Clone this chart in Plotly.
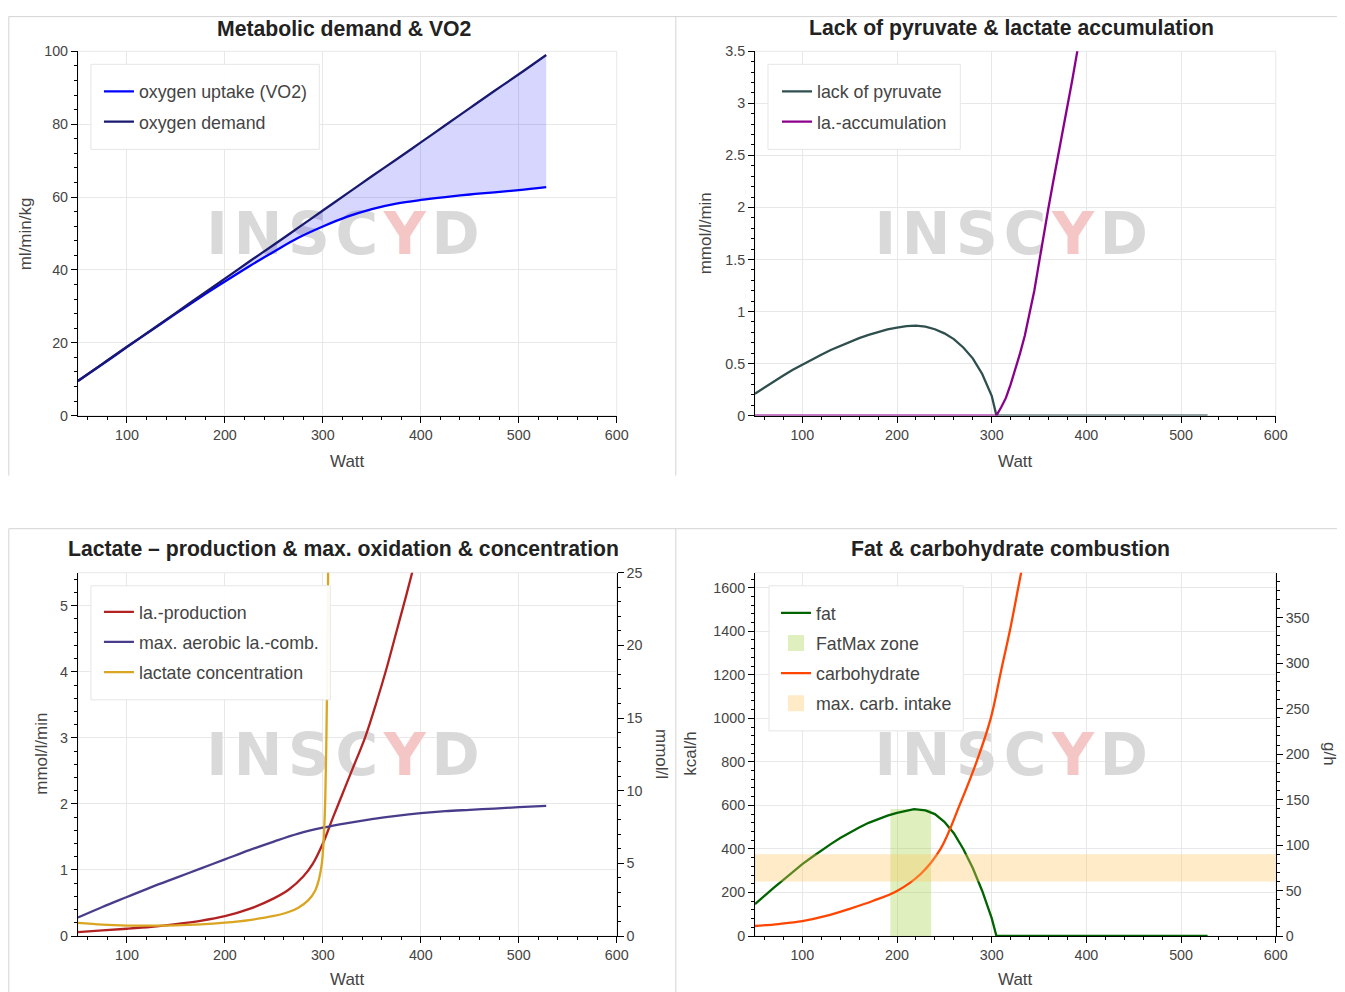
import plotly.graph_objects as go

# ---------------- data ----------------
# Panel 1 - Metabolic demand & VO2  (ml/min/kg vs Watt)
watt_o2 = [50, 75, 100, 125, 150, 175, 200, 225, 250, 275, 300, 325, 350, 375, 400, 425, 450, 475, 500, 528]
vo2 = [9.5, 14.1, 18.8, 23.4, 28.0, 32.5, 36.8, 41.0, 45.0, 48.8, 51.9, 54.6, 56.7, 58.2, 59.2, 60.0, 60.7, 61.3, 61.9, 62.7]
o2_demand = [9.5, 14.2, 18.9, 23.5, 28.2, 32.9, 37.6, 42.3, 46.9, 51.6, 56.3, 61.0, 65.7, 70.3, 75.0, 79.7, 84.4, 89.1, 93.7, 99.0]

# Panel 2 - Lack of pyruvate & lactate accumulation (mmol/l/min)
watt_pyr = [50, 60, 70, 80, 90, 100, 110, 120, 130, 140, 150, 160, 170, 180, 190, 200, 210, 220,
            230, 240, 250, 260, 270, 280, 290, 300, 305, 528]
lack_pyruvate = [0.21, 0.27, 0.33, 0.385, 0.44, 0.49, 0.54, 0.585, 0.63, 0.67, 0.71, 0.745, 0.775, 0.805,
                 0.828, 0.845, 0.86, 0.865, 0.855, 0.83, 0.79, 0.735, 0.655, 0.55, 0.40, 0.19, 0.0, 0.0]
watt_acc = [50, 305, 310, 315, 320, 325, 330, 335, 340, 345, 350, 355, 360, 365, 370, 375, 380, 385, 390, 395]
la_accumulation = [0.0, 0.0, 0.08, 0.17, 0.3, 0.44, 0.6, 0.77, 0.98, 1.2, 1.47, 1.75, 2.0, 2.25, 2.49, 2.72,
                   2.97, 3.22, 3.48, 3.75]

# Panel 3 - Lactate production, max. oxidation (mmol/l/min) & concentration (mmol/l)
watt_prod = [50, 75, 100, 125, 150, 175, 200, 225, 250, 265, 280, 290, 300, 310, 320, 330, 343, 355, 365, 375, 385, 395]
la_production = [0.06, 0.085, 0.11, 0.14, 0.18, 0.23, 0.30, 0.41, 0.57, 0.70, 0.90, 1.10, 1.40, 1.78, 2.15, 2.52,
                 3.0, 3.55, 4.05, 4.6, 5.15, 5.72]
watt_comb = [50, 75, 100, 125, 150, 175, 200, 225, 250, 275, 300, 325, 350, 375, 400, 425, 450, 475, 500, 528]
max_la_comb = [0.28, 0.44, 0.59, 0.74, 0.88, 1.02, 1.16, 1.30, 1.43, 1.55, 1.64, 1.71, 1.77, 1.82, 1.86, 1.89,
               1.91, 1.93, 1.95, 1.97]
watt_conc = [50, 75, 100, 125, 150, 175, 200, 225, 250, 265, 275, 285, 292, 296, 299, 301, 302.5, 303.5, 304.5, 305.5]
la_concentration = [0.9, 0.78, 0.72, 0.71, 0.73, 0.8, 0.92, 1.1, 1.38, 1.65, 1.95, 2.45, 3.1, 3.9, 5.0, 6.8,
                    9.5, 13.0, 18.0, 26.0]

# Panel 4 - Fat & carbohydrate combustion (kcal/h) with zones
watt_fat = [50, 60, 70, 80, 90, 100, 110, 120, 130, 140, 150, 160, 170, 180, 190, 200, 210, 218,
            230, 240, 250, 260, 270, 280, 290, 300, 305, 528]
fat_kcal = [146, 185, 222, 258, 295, 330, 362, 393, 422, 450, 476, 499, 520, 538, 553, 566, 577, 583,
            577, 560, 525, 472, 400, 312, 207, 82, 0, 0]
watt_carb = [50, 75, 100, 125, 150, 175, 200, 225, 246, 266, 284, 299, 310, 320, 328, 336]
carb_kcal = [46, 55, 68, 92, 125, 162, 207, 285, 400, 600, 800, 1000, 1220, 1420, 1600, 1780]
fatmax_zone = [193, 236]        # Watt (height = fat maximum)
max_carb_intake = [60, 90]      # g/h

# axis ranges
x_range = [50, 600]
y1_range = [0, 100]
y2_range = [0, 3.5]
y3_range = [0, 5.5]
y3r_range = [0, 25]
y4_range = [0, 1669]
y4r_range = [0, 399.5]

titles = ["Metabolic demand & VO2", "Lack of pyruvate & lactate accumulation",
          "Lactate \u2013 production & max. oxidation & concentration", "Fat & carbohydrate combustion"]

# ---------------- layout helpers ----------------
W, H = 1340, 985
FONT = "Liberation Sans, Arial, Helvetica, sans-serif"
TXT = "#444444"
SX, AX = 0.9895, 9.2     # screen = AX + SX * figure_x
SY, AY = 0.983, 15.7     # screen = AY + SY * figure_y


def px(x):
    return ((x - AX) / SX) / W


def py(y):
    return 1 - ((y - AY) / SY) / H


boxes = {1: (79, 617, 51, 415), 2: (755, 1275, 51, 415), 3: (79, 617, 572, 935), 4: (755, 1275, 572, 935)}


def xdom(k):
    b = boxes[k]
    return [px(b[0]), px(b[1])]


def ydom(k):
    b = boxes[k]
    return [py(b[3]), py(b[2])]


def axis(rng, dtick, mdtick, grid=True, **kw):
    d = dict(range=rng, dtick=dtick, tick0=0, showline=True, linecolor="black", linewidth=1,
             ticks="outside", ticklen=6, tickwidth=1, tickcolor="black",
             minor=dict(dtick=mdtick, tick0=0, ticks="outside", ticklen=3, tickcolor="black", showgrid=False),
             showgrid=grid, gridcolor="#e8e8e8", gridwidth=1, zeroline=False, fixedrange=True,
             tickfont=dict(family=FONT, size=14.3, color=TXT))
    d.update(kw)
    return d


fig = go.Figure()

HS = "\u200a"
WM_TEXT = "<b>I" + HS + "N" + HS + "S" + HS + "C" + HS + "<span style='color:#f5c6c6'>Y</span>" + HS + "D</b>"


def watermark(xa, ya, xr, yr):
    fig.add_trace(go.Scatter(
        x=[xr[0] + 0.492 * (xr[1] - xr[0])], y=[yr[0] + 0.483 * (yr[1] - yr[0])],
        mode="text", text=[WM_TEXT], textposition="middle center",
        textfont=dict(family="DejaVu Sans", size=58, color="#d9d9d9"),
        xaxis=xa, yaxis=ya, showlegend=False, hoverinfo="skip"))


# ---------------- panel 1 ----------------
watermark("x", "y", x_range, y1_range)
fig.add_trace(go.Scatter(x=watt_o2, y=vo2, mode="lines", line=dict(width=0, shape="spline"),
                         showlegend=False, hoverinfo="skip", xaxis="x", yaxis="y"))
fig.add_trace(go.Scatter(x=watt_o2, y=o2_demand, mode="lines", line=dict(width=0, shape="spline"),
                         fill="tonexty", fillcolor="rgba(0,0,255,0.16)",
                         showlegend=False, hoverinfo="skip", xaxis="x", yaxis="y"))
fig.add_trace(go.Scatter(x=watt_o2, y=vo2, mode="lines", name="oxygen uptake (VO2)",
                         line=dict(color="#0000ff", width=2.3, shape="spline"),
                         legend="legend", legendgroup="a1", xaxis="x", yaxis="y"))
fig.add_trace(go.Scatter(x=watt_o2, y=o2_demand, mode="lines", name="oxygen demand",
                         line=dict(color="#191970", width=2.3, shape="spline"),
                         legend="legend", legendgroup="a2", xaxis="x", yaxis="y"))

# ---------------- panel 2 ----------------
watermark("x2", "y2", x_range, y2_range)
fig.add_trace(go.Scatter(x=watt_pyr, y=lack_pyruvate, mode="lines", name="lack of pyruvate",
                         line=dict(color="#2f4f4f", width=2.3),
                         legend="legend2", legendgroup="b1", xaxis="x2", yaxis="y2"))
fig.add_trace(go.Scatter(x=watt_acc, y=la_accumulation, mode="lines", name="la.-accumulation",
                         line=dict(color="#8b008b", width=2.3),
                         legend="legend2", legendgroup="b2", xaxis="x2", yaxis="y2"))

# ---------------- panel 3 ----------------
watermark("x3", "y3", x_range, y3_range)
fig.add_trace(go.Scatter(x=watt_prod, y=la_production, mode="lines", name="la.-production",
                         line=dict(color="#b22222", width=2.3, shape="spline"),
                         legend="legend3", legendgroup="c1", xaxis="x3", yaxis="y3"))
fig.add_trace(go.Scatter(x=watt_comb, y=max_la_comb, mode="lines", name="max. aerobic la.-comb.",
                         line=dict(color="#483d8b", width=2.3, shape="spline"),
                         legend="legend3", legendgroup="c2", xaxis="x3", yaxis="y3"))
fig.add_trace(go.Scatter(x=watt_conc, y=la_concentration, mode="lines", name="lactate concentration",
                         line=dict(color="#daa520", width=2.3, shape="spline"),
                         legend="legend3", legendgroup="c3", xaxis="x3", yaxis="y5"))

# ---------------- panel 4 ----------------
watermark("x4", "y4", x_range, y4_range)
FATMAX_COL = "rgba(154,205,50,0.32)"
CARB_COL = "rgba(255,200,100,0.36)"
fat_peak = max(fat_kcal)
fig.add_trace(go.Scatter(x=[fatmax_zone[0], fatmax_zone[1], fatmax_zone[1], fatmax_zone[0], fatmax_zone[0]],
                         y=[0, 0, fat_peak, fat_peak, 0],
                         mode="lines", fill="toself", fillcolor=FATMAX_COL, line=dict(width=0),
                         showlegend=False, hoverinfo="skip", xaxis="x4", yaxis="y4"))
fig.add_trace(go.Scatter(x=watt_fat, y=fat_kcal, mode="lines", name="fat",
                         line=dict(color="#006400", width=2.3),
                         legend="legend4", legendgroup="d1", legendrank=1, xaxis="x4", yaxis="y4"))
fig.add_trace(go.Scatter(x=[None], y=[None], mode="markers", name="FatMax zone",
                         marker=dict(symbol="square", size=16, color=FATMAX_COL),
                         legend="legend4", legendgroup="d2", legendrank=2, xaxis="x4", yaxis="y4"))
fig.add_trace(go.Scatter(x=watt_carb, y=carb_kcal, mode="lines", name="carbohydrate",
                         line=dict(color="#ff4500", width=2.3, shape="spline"),
                         legend="legend4", legendgroup="d3", legendrank=3, xaxis="x4", yaxis="y4"))
fig.add_trace(go.Scatter(x=[x_range[0], x_range[1], x_range[1], x_range[0], x_range[0]],
                         y=[max_carb_intake[0], max_carb_intake[0], max_carb_intake[1], max_carb_intake[1],
                            max_carb_intake[0]],
                         mode="lines", fill="toself", fillcolor=CARB_COL, line=dict(width=0),
                         showlegend=False, hoverinfo="skip", xaxis="x4", yaxis="y6"))
fig.add_trace(go.Scatter(x=[None], y=[None], mode="markers", name="max. carb. intake",
                         marker=dict(symbol="square", size=16, color=CARB_COL),
                         legend="legend4", legendgroup="d4", legendrank=4, xaxis="x4", yaxis="y4"))

# ---------------- axes ----------------
layout = dict(
    width=W, height=H, autosize=False, margin=dict(l=0, r=0, t=0, b=0),
    paper_bgcolor="white", plot_bgcolor="white", hovermode=False,
    xaxis=axis(x_range, 100, 20, domain=xdom(1), anchor="y"),
    yaxis=axis(y1_range, 20, 4, domain=ydom(1), anchor="x"),
    xaxis2=axis(x_range, 100, 20, domain=xdom(2), anchor="y2"),
    yaxis2=axis(y2_range, 0.5, 0.1, domain=ydom(2), anchor="x2"),
    xaxis3=axis(x_range, 100, 20, domain=xdom(3), anchor="y3"),
    yaxis3=axis(y3_range, 1, 0.2, domain=ydom(3), anchor="x3"),
    xaxis4=axis(x_range, 100, 20, domain=xdom(4), anchor="y4"),
    yaxis4=axis(y4_range, 200, 40, domain=ydom(4), anchor="x4"),
    yaxis5=axis(y3r_range, 5, 1, grid=False, overlaying="y3", side="right", anchor="x3"),
    yaxis6=axis(y4r_range, 50, 10, grid=False, overlaying="y4", side="right", anchor="x4"),
)


def legend_at(xpx, ypx):
    return dict(x=px(xpx), y=py(ypx), xanchor="left", yanchor="top", bgcolor="rgba(0,0,0,0)",
                borderwidth=0, font=dict(family=FONT, size=17.8, color=TXT),
                traceorder="grouped", tracegroupgap=4, itemclick=False, itemdoubleclick=False)


layout["legend"] = legend_at(100, 73)
layout["legend2"] = legend_at(777, 73)
layout["legend3"] = legend_at(100, 593)
layout["legend4"] = legend_at(776, 594)
fig.update_layout(**layout)

# ---------------- frames, legend boxes, outlines ----------------
shapes = []
FRAME = "#d4d4d4"
for (x0, y0, x1, y1) in [(10, 16.3, 1345, 16.3), (10, 16, 10, 475), (676, 16, 676, 475),
                         (10, 528, 1345, 528), (10, 528, 10, 1000), (676, 528, 676, 1000)]:
    shapes.append(dict(type="line", xref="paper", yref="paper", x0=px(x0), y0=py(y0), x1=px(x1), y1=py(y1),
                       line=dict(color=FRAME, width=1), layer="below"))
for k, b in boxes.items():
    shapes.append(dict(type="rect", xref="paper", yref="paper", x0=px(b[0]), x1=px(b[1]), y0=py(b[3]),
                       y1=py(b[2]), line=dict(color="#e8e8e8", width=1), layer="below"))
for (x0, y0, x1, y1) in [(92, 64, 320, 149), (768, 64, 960, 149), (92, 585, 331, 699), (769, 585, 963, 730)]:
    shapes.append(dict(type="rect", xref="paper", yref="paper", x0=px(x0), x1=px(x1), y0=py(y1), y1=py(y0),
                       line=dict(color="#e6e6e6", width=1), fillcolor="rgba(255,255,255,0.93)", layer="above"))
fig.update_layout(shapes=shapes)

# ---------------- text: titles & axis titles ----------------
ann = []
for t, (cx, cy) in zip(titles, [(345, 28), (1011, 28), (344, 548), (1010, 548)]):
    ann.append(dict(text=t, x=px(cx), y=py(cy), xref="paper", yref="paper", showarrow=False,
                    xanchor="center", yanchor="middle",
                    font=dict(family=FONT, size=21.2, color="#222222", weight="bold")))
for (cx, cy) in [(348, 461), (1015, 461), (348, 978), (1015, 978)]:
    ann.append(dict(text="Watt", x=px(cx), y=py(cy), xref="paper", yref="paper", showarrow=False,
                    xanchor="center", yanchor="middle", font=dict(family=FONT, size=17, color=TXT)))
for t, (cx, cy), ang in [("ml/min/kg", (27, 233), -90), ("mmol/l/min", (706, 233), -90),
                         ("mmol/l/min", (43, 753), -90), ("kcal/h", (691, 753), -90),
                         ("mmol/l", (661, 753), 90), ("g/h", (1328, 753), 90)]:
    ann.append(dict(text=t, x=px(cx), y=py(cy), xref="paper", yref="paper", showarrow=False,
                    xanchor="center", yanchor="middle", textangle=ang,
                    font=dict(family=FONT, size=17, color=TXT)))
fig.update_layout(annotations=ann)

fig.write_html("out.html")
